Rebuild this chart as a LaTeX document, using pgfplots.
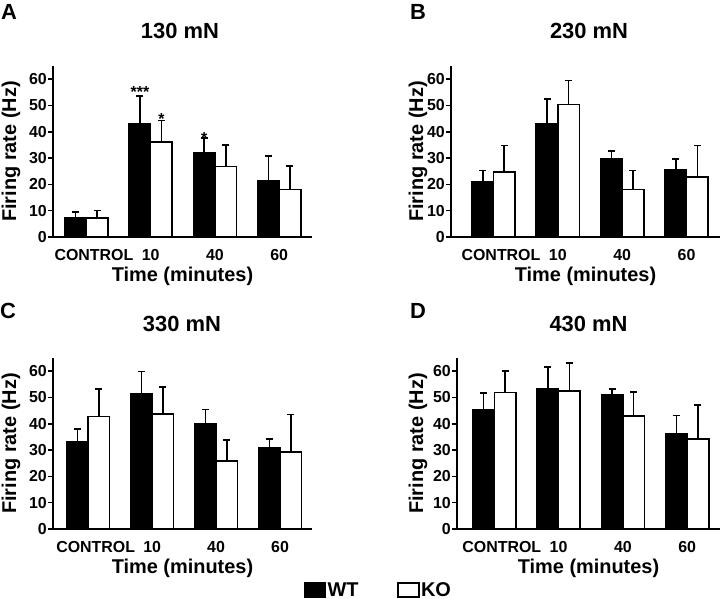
\documentclass[border=0pt]{standalone}
\usepackage{fontspec}
\setmainfont{Liberation Sans}
\usepackage{pgfplots}
\usepackage{pgfplotstable}
\pgfplotsset{compat=1.18}

% x: 0=CONTROL, 1=10, 2=40, 3=60 min
\pgfplotstableread{
x wt wterr ko koerr
0 7.2 2.3 7.2 2.8
1 43.0 10.7 36.1 8.2
2 32.0 5.6 26.8 8.1
3 21.4 9.4 18.0 9.0
}\tA
\pgfplotstableread{
x wt wterr ko koerr
0 21.1 4.2 24.8 10.0
1 43.0 9.4 50.3 9.2
2 29.7 3.1 18.0 7.2
3 25.6 4.0 22.9 11.9
}\tB
\pgfplotstableread{
x wt wterr ko koerr
0 33.2 4.9 42.8 10.5
1 51.3 8.5 43.7 10.2
2 40.1 5.3 25.8 8.0
3 30.7 3.4 29.2 14.3
}\tC
\pgfplotstableread{
x wt wterr ko koerr
0 45.4 6.2 51.9 8.1
1 53.4 8.1 52.4 10.8
2 51.1 2.2 42.9 9.1
3 36.0 7.1 34.3 12.8
}\tD

\tikzset{sigstar/.style={font=\fontsize{16}{16}\selectfont\bfseries, anchor=base, inner sep=0pt}}

\pgfplotsset{
  panel/.style={
    scale only axis,
    anchor=south west,
    height=171bp,
    ybar=0pt, bar width=0.335,
    ymin=0, ymax=65,
    ytick={0,10,...,60},
    xtick={0,1,2,3},
    xticklabels={\hspace*{15bp}CONTROL,10,40,60},
    axis x line*=bottom, axis y line*=left,
    axis line style={-, line width=1.6bp, black},
    tick style={line width=1.6bp, black},
    major tick length=5bp, tick align=outside,
    major x tick style={draw=none},
    ytick pos=left,
    clip=false,
    /pgf/number format/assume math mode=true,
    tick label style={font=\fontsize{16}{16}\selectfont\bfseries},
    yticklabel style={inner sep=1bp},
    xticklabel style={yshift=-4bp},
    label style={font=\fontsize{20}{20}\selectfont\bfseries},
    xlabel={Time (minutes)},
    ylabel={Firing rate (Hz)},
    xlabel style={at={(axis description cs:0.5,-0.228)}, anchor=center},
    title style={font=\fontsize{22}{22}\selectfont\bfseries, anchor=center},
  },
  errs/.style={error bars/.cd, y dir=plus, y explicit,
    error bar style={line width=1.6bp, black},
    error mark options={rotate=90, line width=1.6bp, black, mark size=3.5bp}},
  wt/.style={fill=black, draw=black, line width=1.6bp, errs},
  ko/.style={fill=white, draw=black, line width=1.6bp, errs},
}

\begin{document}
\begin{tikzpicture}[x=1bp,y=1bp]
\useasboundingbox (0,0) rectangle (720,599);

% Panel A
\begin{axis}[panel, at={(53bp,362bp)}, width=259bp, xmin=-0.52, xmax=3.51,
  title={130 mN}, title style={at={(axis description cs:0.49,1.171)}},
  ylabel style={at={(axis description cs:-0.162,0.5)}, anchor=center}]
\addplot[wt] table[x=x, y=wt, y error=wterr] {\tA};
\addplot[ko] table[x=x, y=ko, y error=koerr] {\tA};
\node[sigstar] at (axis cs:0.8325,53.0) {***};
\node[sigstar] at (axis cs:1.1675,42.6) {*};
\node[sigstar] at (axis cs:1.8325,35.6) {*};
\end{axis}

% Panel B
\begin{axis}[panel, at={(451bp,362bp)}, width=269bp, xmin=-0.66, xmax=3.52,
  title={230 mN}, title style={at={(axis description cs:0.513,1.171)}},
  ylabel style={at={(axis description cs:-0.123,0.5)}, anchor=center}]
\addplot[wt] table[x=x, y=wt, y error=wterr] {\tB};
\addplot[ko] table[x=x, y=ko, y error=koerr] {\tB};
\end{axis}

% Panel C
\begin{axis}[panel, at={(53bp,70bp)}, width=259bp, xmin=-0.55, xmax=3.50,
  title={330 mN}, title style={at={(axis description cs:0.498,1.164)}},
  ylabel style={at={(axis description cs:-0.162,0.5)}, anchor=center},
  legend columns=2,
  legend style={at={(axis description cs:1.255,-0.357)}, anchor=center, draw=none,
    font=\fontsize{20}{20}\selectfont\bfseries,
    nodes={inner sep=1.5bp},
    /tikz/every even column/.append style={column sep=37bp}},
  legend image code/.code={\draw[#1, line width=1.5bp] (0bp,-7bp) rectangle (21bp,7bp);}]
\addplot[wt] table[x=x, y=wt, y error=wterr] {\tC};
\addlegendentry{WT}
\addplot[ko] table[x=x, y=ko, y error=koerr] {\tC};
\addlegendentry{KO}
\end{axis}

% Panel D
\begin{axis}[panel, at={(457bp,70bp)}, width=263bp, xmin=-0.58, xmax=3.51,
  title={430 mN}, title style={at={(axis description cs:0.50,1.164)}},
  ylabel style={at={(axis description cs:-0.148,0.5)}, anchor=center}]
\addplot[wt] table[x=x, y=wt, y error=wterr] {\tD};
\addplot[ko] table[x=x, y=ko, y error=koerr] {\tD};
\end{axis}

\node[font=\fontsize{22}{22}\selectfont\bfseries] at (9,587) {A};
\node[font=\fontsize{22}{22}\selectfont\bfseries] at (418,587) {B};
\node[font=\fontsize{22}{22}\selectfont\bfseries] at (8,288) {C};
\node[font=\fontsize{22}{22}\selectfont\bfseries] at (418,288) {D};
\end{tikzpicture}
\end{document}
